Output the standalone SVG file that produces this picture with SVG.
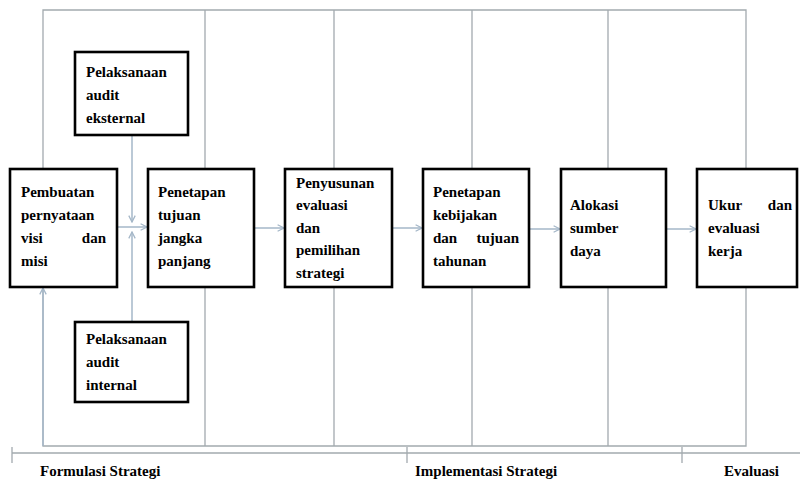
<svg xmlns="http://www.w3.org/2000/svg" width="800" height="479" viewBox="0 0 800 479">
<defs>
<marker id="ah" viewBox="0 0 10 10" refX="9" refY="5" markerWidth="8" markerHeight="8" orient="auto" markerUnits="userSpaceOnUse">
<path d="M1,1 L9,5 L1,9" fill="none" stroke="#a5b7c8" stroke-width="1.6"/>
</marker>
</defs>
<rect width="800" height="479" fill="#fff"/>
<g id="frame" stroke="#a3aaaf" stroke-width="1.3" fill="none">
<path d="M43,10 H746 V446 H43 Z"/>
<path d="M205,10 V446 M334,10 V446 M472,10 V446 M608,10 V446"/>
</g>
<g id="axis" stroke="#a3aaaf" stroke-width="1.3" fill="none">
<path d="M12,453 H800 M12,447 V463 M407,447 V463 M682,447 V463"/>
</g>
<g id="connectors" stroke="#a5b7c8" stroke-width="1.5" fill="none">
<path d="M117,227 H147" marker-end="url(#ah)"/>
<path d="M132,135 V222" marker-end="url(#ah)"/>
<path d="M132,322 V232" marker-end="url(#ah)"/>
<path d="M43,446 V288" marker-end="url(#ah)"/>
<path d="M254,228 H284" marker-end="url(#ah)"/>
<path d="M392,228 H422" marker-end="url(#ah)"/>
<path d="M529,229 H560" marker-end="url(#ah)"/>
<path d="M666,229 H696" marker-end="url(#ah)"/>
</g>
<g id="node-visi">
<rect x="10" y="169" width="107" height="118" fill="#fff" stroke="#000" stroke-width="2.6"/>
<text font-family="Times New Roman, Liberation Serif, serif" font-weight="bold" font-size="15px" x="21" y="197">Pembuatan</text>
<text font-family="Times New Roman, Liberation Serif, serif" font-weight="bold" font-size="15px" x="21" y="220">pernyataan</text>
<text font-family="Times New Roman, Liberation Serif, serif" font-weight="bold" font-size="15px" x="21" y="243">visi</text>
<text font-family="Times New Roman, Liberation Serif, serif" font-weight="bold" font-size="15px" x="106" y="243" text-anchor="end">dan</text>
<text font-family="Times New Roman, Liberation Serif, serif" font-weight="bold" font-size="15px" x="21" y="266">misi</text>
</g>
<g id="node-eksternal">
<rect x="75" y="52" width="113" height="83" fill="#fff" stroke="#000" stroke-width="2.6"/>
<text font-family="Times New Roman, Liberation Serif, serif" font-weight="bold" font-size="15px" x="86" y="77">Pelaksanaan</text>
<text font-family="Times New Roman, Liberation Serif, serif" font-weight="bold" font-size="15px" x="86" y="100">audit</text>
<text font-family="Times New Roman, Liberation Serif, serif" font-weight="bold" font-size="15px" x="86" y="123">eksternal</text>
</g>
<g id="node-internal">
<rect x="75" y="322" width="113" height="80" fill="#fff" stroke="#000" stroke-width="2.6"/>
<text font-family="Times New Roman, Liberation Serif, serif" font-weight="bold" font-size="15px" x="86" y="344">Pelaksanaan</text>
<text font-family="Times New Roman, Liberation Serif, serif" font-weight="bold" font-size="15px" x="86" y="367">audit</text>
<text font-family="Times New Roman, Liberation Serif, serif" font-weight="bold" font-size="15px" x="86" y="390">internal</text>
</g>
<g id="node-tujuan">
<rect x="148" y="169" width="106" height="118" fill="#fff" stroke="#000" stroke-width="2.6"/>
<text font-family="Times New Roman, Liberation Serif, serif" font-weight="bold" font-size="15px" x="158" y="197">Penetapan</text>
<text font-family="Times New Roman, Liberation Serif, serif" font-weight="bold" font-size="15px" x="158" y="220">tujuan</text>
<text font-family="Times New Roman, Liberation Serif, serif" font-weight="bold" font-size="15px" x="158" y="243">jangka</text>
<text font-family="Times New Roman, Liberation Serif, serif" font-weight="bold" font-size="15px" x="158" y="266">panjang</text>
</g>
<g id="node-strategi">
<rect x="285" y="169" width="107" height="118" fill="#fff" stroke="#000" stroke-width="2.6"/>
<text font-family="Times New Roman, Liberation Serif, serif" font-weight="bold" font-size="15px" x="296" y="188">Penyusunan</text>
<text font-family="Times New Roman, Liberation Serif, serif" font-weight="bold" font-size="15px" x="296" y="210">evaluasi</text>
<text font-family="Times New Roman, Liberation Serif, serif" font-weight="bold" font-size="15px" x="296" y="233">dan</text>
<text font-family="Times New Roman, Liberation Serif, serif" font-weight="bold" font-size="15px" x="296" y="255">pemilihan</text>
<text font-family="Times New Roman, Liberation Serif, serif" font-weight="bold" font-size="15px" x="296" y="278">strategi</text>
</g>
<g id="node-kebijakan">
<rect x="423" y="169" width="106" height="118" fill="#fff" stroke="#000" stroke-width="2.6"/>
<text font-family="Times New Roman, Liberation Serif, serif" font-weight="bold" font-size="15px" x="433" y="197">Penetapan</text>
<text font-family="Times New Roman, Liberation Serif, serif" font-weight="bold" font-size="15px" x="433" y="220">kebijakan</text>
<text font-family="Times New Roman, Liberation Serif, serif" font-weight="bold" font-size="15px" x="433" y="243">dan</text>
<text font-family="Times New Roman, Liberation Serif, serif" font-weight="bold" font-size="15px" x="519" y="243" text-anchor="end">tujuan</text>
<text font-family="Times New Roman, Liberation Serif, serif" font-weight="bold" font-size="15px" x="433" y="266">tahunan</text>
</g>
<g id="node-alokasi">
<rect x="561" y="169" width="105" height="118" fill="#fff" stroke="#000" stroke-width="2.6"/>
<text font-family="Times New Roman, Liberation Serif, serif" font-weight="bold" font-size="15px" x="570" y="210">Alokasi</text>
<text font-family="Times New Roman, Liberation Serif, serif" font-weight="bold" font-size="15px" x="570" y="233">sumber</text>
<text font-family="Times New Roman, Liberation Serif, serif" font-weight="bold" font-size="15px" x="570" y="256">daya</text>
</g>
<g id="node-ukur">
<rect x="697" y="169" width="100" height="118" fill="#fff" stroke="#000" stroke-width="2.6"/>
<text font-family="Times New Roman, Liberation Serif, serif" font-weight="bold" font-size="15px" x="708" y="210">Ukur</text>
<text font-family="Times New Roman, Liberation Serif, serif" font-weight="bold" font-size="15px" x="792" y="210" text-anchor="end">dan</text>
<text font-family="Times New Roman, Liberation Serif, serif" font-weight="bold" font-size="15px" x="708" y="233">evaluasi</text>
<text font-family="Times New Roman, Liberation Serif, serif" font-weight="bold" font-size="15px" x="708" y="256">kerja</text>
</g>
<g id="labels">
<text font-family="Times New Roman, Liberation Serif, serif" font-weight="bold" font-size="15px" x="40" y="476">Formulasi Strategi</text>
<text font-family="Times New Roman, Liberation Serif, serif" font-weight="bold" font-size="15px" x="415" y="476">Implementasi Strategi</text>
<text font-family="Times New Roman, Liberation Serif, serif" font-weight="bold" font-size="15px" x="724" y="476">Evaluasi</text>
</g>
</svg>
